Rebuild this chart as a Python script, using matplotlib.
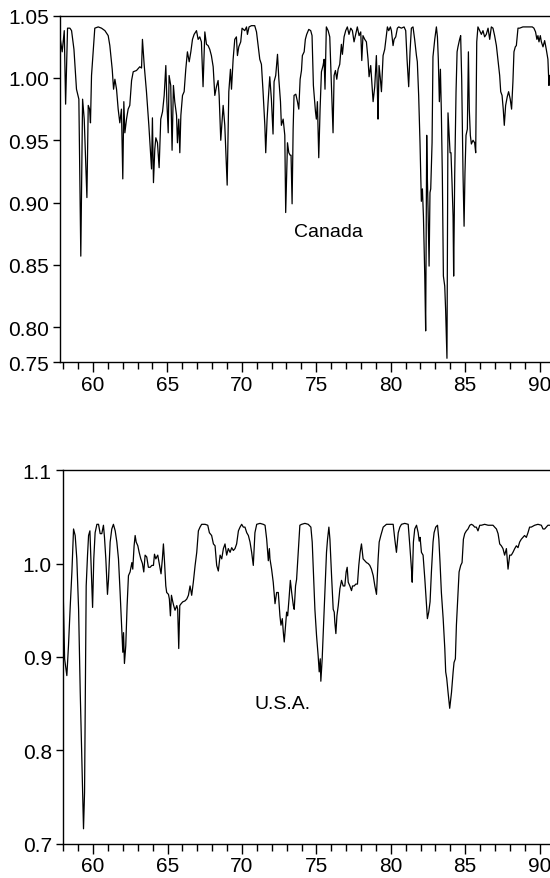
import matplotlib
matplotlib.use("Agg")
import matplotlib.pyplot as plt
from matplotlib.ticker import MultipleLocator

plt.rcParams['font.family'] = ['Liberation Sans', 'DejaVu Sans']

# Canada: time (years since 1900) and values
canada_t = [
    57.79, 57.94, 58.08, 58.17, 58.30, 58.46, 58.57, 58.73, 58.90, 59.06,
    59.19, 59.31, 59.42, 59.60, 59.69, 59.78, 59.84, 59.91, 60.02, 60.13,
    60.36, 60.58, 60.81, 61.03, 61.14, 61.30, 61.39, 61.48, 61.59, 61.70,
    61.81, 61.92, 62.01, 62.08, 62.15, 62.26, 62.37, 62.48, 62.60, 62.71,
    62.93, 63.15, 63.27, 63.33, 63.45, 63.60, 63.76, 63.94, 64.00, 64.07,
    64.16, 64.23, 64.34, 64.45, 64.56, 64.68, 64.79, 64.90, 64.97, 65.06,
    65.12, 65.23, 65.32, 65.41, 65.50, 65.62, 65.68, 65.77, 65.84, 65.91,
    66.02, 66.13, 66.24, 66.35, 66.47, 66.58, 66.69, 66.80, 66.96, 67.07,
    67.18, 67.29, 67.40, 67.52, 67.63, 67.74, 67.85, 67.96, 68.08, 68.19,
    68.30, 68.41, 68.48, 68.59, 68.75, 68.86, 69.02, 69.13, 69.24, 69.31,
    69.42, 69.53, 69.64, 69.71, 69.80, 69.93, 70.02, 70.20, 70.32, 70.38,
    70.49, 70.65, 70.87, 70.99, 71.10, 71.21, 71.32, 71.43, 71.55, 71.61,
    71.70, 71.77, 71.88, 71.99, 72.10, 72.17, 72.28, 72.40, 72.49, 72.60,
    72.66, 72.78, 72.89, 72.95, 73.07, 73.16, 73.25, 73.31, 73.38, 73.45,
    73.51, 73.63, 73.74, 73.83, 73.92, 74.01, 74.07, 74.19, 74.27, 74.36,
    74.50, 74.63, 74.72, 74.81, 74.95, 75.01, 75.08, 75.17, 75.26, 75.35,
    75.46, 75.53, 75.59, 75.68, 75.80, 75.91, 76.02, 76.13, 76.20, 76.29,
    76.38, 76.47, 76.58, 76.69, 76.76, 76.87, 76.98, 77.09, 77.20, 77.32,
    77.43, 77.54, 77.65, 77.76, 77.88, 77.99, 78.06, 78.14, 78.26, 78.37,
    78.48, 78.55, 78.66, 78.75, 78.82, 78.93, 79.04, 79.11, 79.15, 79.22,
    79.31, 79.38, 79.49, 79.60, 79.71, 79.78, 79.87, 79.98, 80.05, 80.16,
    80.23, 80.34, 80.45, 80.54, 80.72, 80.90, 81.01, 81.10, 81.21, 81.30,
    81.39, 81.50, 81.61, 81.73, 81.79, 81.88, 81.97, 82.06, 82.13, 82.20,
    82.29, 82.35, 82.42, 82.46, 82.51, 82.58, 82.64, 82.69, 82.78, 82.84,
    82.96, 83.07, 83.14, 83.20, 83.27, 83.34, 83.40, 83.47, 83.54, 83.63,
    83.69, 83.78, 83.85, 83.92, 83.99, 84.05, 84.12, 84.19, 84.23, 84.30,
    84.39, 84.46, 84.52, 84.63, 84.70, 84.77, 84.86, 84.93, 84.99, 85.06,
    85.15, 85.22, 85.28, 85.35, 85.42, 85.53, 85.64, 85.71, 85.78, 85.86,
    85.98, 86.09, 86.20, 86.31, 86.42, 86.54, 86.65, 86.76, 86.87, 86.98,
    87.10, 87.21, 87.32, 87.39, 87.48, 87.56, 87.63, 87.72, 87.83, 87.92,
    88.03, 88.12, 88.21, 88.28, 88.37, 88.44, 88.55, 88.66, 88.88, 89.11,
    89.33, 89.51, 89.62, 89.73, 89.82, 89.89, 89.96, 90.05, 90.12, 90.23,
    90.34, 90.45, 90.56, 90.63, 90.67,
]
canada_v = [
    1.033, 1.021, 1.038, 0.979, 1.040, 1.040, 1.038, 1.023, 0.991, 0.983,
    0.857, 0.983, 0.967, 0.904, 0.978, 0.975, 0.964, 1.002, 1.021, 1.040,
    1.041, 1.040, 1.038, 1.034, 1.026, 1.007, 0.991, 0.999, 0.991, 0.975,
    0.964, 0.975, 0.919, 0.981, 0.956, 0.967, 0.975, 0.978, 0.998, 1.005,
    1.006, 1.009, 1.008, 1.031, 1.010, 0.989, 0.962, 0.927, 0.968, 0.916,
    0.943, 0.952, 0.948, 0.928, 0.967, 0.973, 0.986, 1.010, 0.981, 0.956,
    1.002, 0.994, 0.942, 0.994, 0.981, 0.970, 0.948, 0.967, 0.940, 0.970,
    0.986, 0.989, 1.007, 1.021, 1.013, 1.021, 1.031, 1.035, 1.038, 1.031,
    1.033, 1.029, 0.993, 1.037, 1.027, 1.026, 1.023, 1.018, 1.009, 0.986,
    0.993, 0.998, 0.986, 0.950, 0.978, 0.962, 0.914, 0.989, 1.007, 0.991,
    1.015, 1.031, 1.033, 1.018, 1.025, 1.029, 1.040, 1.038, 1.041, 1.035,
    1.041, 1.042, 1.042, 1.037, 1.026, 1.015, 1.011, 0.989, 0.962, 0.940,
    0.967, 0.981, 1.001, 0.983, 0.955, 0.997, 1.002, 1.019, 0.999, 0.981,
    0.962, 0.967, 0.954, 0.892, 0.948, 0.940, 0.938, 0.938, 0.899, 0.959,
    0.986, 0.987, 0.981, 0.975, 0.999, 1.006, 1.018, 1.021, 1.031, 1.035,
    1.039, 1.038, 1.034, 0.994, 0.973, 0.967, 0.981, 0.936, 0.975, 1.005,
    1.010, 1.015, 0.991, 1.041, 1.038, 1.033, 0.994, 0.956, 1.002, 1.006,
    0.999, 1.007, 1.011, 1.027, 1.019, 1.033, 1.038, 1.041, 1.035, 1.040,
    1.038, 1.029, 1.035, 1.041, 1.034, 1.037, 1.014, 1.034, 1.031, 1.029,
    1.015, 1.001, 1.010, 0.993, 0.981, 0.993, 1.018, 0.989, 0.967, 1.010,
    0.999, 0.989, 1.018, 1.023, 1.034, 1.041, 1.038, 1.041, 1.038, 1.026,
    1.031, 1.033, 1.040, 1.041, 1.040, 1.041, 1.038, 1.015, 0.993, 1.021,
    1.040, 1.041, 1.031, 1.018, 1.013, 0.986, 0.948, 0.901, 0.911, 0.889,
    0.841, 0.797, 0.954, 0.922, 0.895, 0.849, 0.908, 0.911, 0.948, 1.017,
    1.031, 1.041, 1.033, 1.015, 0.981, 1.007, 0.975, 0.922, 0.841, 0.833,
    0.814, 0.775, 0.972, 0.956, 0.940, 0.940, 0.916, 0.889, 0.841, 0.922,
    0.989, 1.021, 1.025, 1.031, 1.034, 0.999, 0.922, 0.881, 0.924, 0.954,
    0.959, 1.021, 0.975, 0.954, 0.947, 0.950, 0.948, 0.940, 1.029, 1.041,
    1.038, 1.035, 1.038, 1.033, 1.035, 1.040, 1.031, 1.041, 1.040, 1.034,
    1.026, 1.014, 1.002, 0.989, 0.986, 0.975, 0.962, 0.978, 0.985, 0.989,
    0.983, 0.975, 0.997, 1.021, 1.025, 1.026, 1.040, 1.040, 1.041, 1.041,
    1.041, 1.041, 1.040, 1.037, 1.031, 1.034, 1.029, 1.034, 1.029, 1.025,
    1.030, 1.023, 1.015, 0.994, 1.002,
]

# U.S.A.
usa_t = [
    57.97, 58.08, 58.23, 58.34, 58.46, 58.57, 58.68, 58.79, 58.90, 59.02,
    59.13, 59.24, 59.35, 59.42, 59.53, 59.62, 59.69, 59.78, 59.87, 59.96,
    60.04, 60.13, 60.25, 60.36, 60.47, 60.58, 60.69, 60.76, 60.85, 60.96,
    61.03, 61.14, 61.25, 61.36, 61.48, 61.59, 61.70, 61.81, 61.92, 61.99,
    62.04, 62.10, 62.19, 62.28, 62.37, 62.48, 62.60, 62.66, 62.75, 62.82,
    62.89, 63.00, 63.09, 63.20, 63.31, 63.40, 63.49, 63.60, 63.71, 63.83,
    63.94, 64.05, 64.12, 64.21, 64.27, 64.34, 64.43, 64.56, 64.65, 64.72,
    64.79, 64.88, 64.94, 65.06, 65.12, 65.19, 65.26, 65.35, 65.41, 65.50,
    65.62, 65.68, 65.75, 65.82, 65.91, 66.02, 66.17, 66.29, 66.40, 66.51,
    66.62, 66.73, 66.85, 66.96, 67.07, 67.18, 67.29, 67.52, 67.70, 67.81,
    67.96, 68.08, 68.19, 68.30, 68.41, 68.53, 68.64, 68.75, 68.86, 68.97,
    69.08, 69.20, 69.31, 69.42, 69.53, 69.64, 69.76, 69.87, 69.98, 70.09,
    70.20, 70.32, 70.43, 70.54, 70.65, 70.76, 70.87, 70.99, 71.21, 71.43,
    71.55, 71.66, 71.77, 71.84, 71.88, 71.99, 72.10, 72.22, 72.33, 72.44,
    72.55, 72.62, 72.71, 72.78, 72.84, 72.93, 73.00, 73.07, 73.16, 73.25,
    73.34, 73.45, 73.51, 73.60, 73.67, 73.78, 73.89, 74.01, 74.23, 74.45,
    74.63, 74.72, 74.81, 74.90, 75.01, 75.12, 75.19, 75.26, 75.30, 75.39,
    75.48, 75.57, 75.68, 75.75, 75.84, 75.91, 76.02, 76.13, 76.20, 76.24,
    76.31, 76.38, 76.47, 76.58, 76.69, 76.80, 76.91, 77.00, 77.07, 77.14,
    77.25, 77.36, 77.43, 77.54, 77.65, 77.76, 77.85, 77.94, 78.03, 78.14,
    78.26, 78.37, 78.48, 78.59, 78.70, 78.82, 78.93, 79.04, 79.15, 79.22,
    79.33, 79.49, 79.71, 79.94, 80.16, 80.27, 80.38, 80.50, 80.61, 80.72,
    80.94, 81.17, 81.28, 81.39, 81.44, 81.52, 81.61, 81.73, 81.84, 81.91,
    81.97, 82.06, 82.17, 82.29, 82.40, 82.46, 82.55, 82.64, 82.73, 82.84,
    82.91, 83.02, 83.14, 83.23, 83.31, 83.40, 83.52, 83.63, 83.69, 83.76,
    83.85, 83.96, 84.08, 84.19, 84.25, 84.34, 84.41, 84.52, 84.59, 84.70,
    84.79, 84.88, 84.97, 85.08, 85.19, 85.31, 85.42, 85.53, 85.64, 85.75,
    85.86, 85.98, 86.09, 86.31, 86.54, 86.76, 86.87, 86.98, 87.10, 87.21,
    87.32, 87.43, 87.54, 87.65, 87.77, 87.88, 87.99, 88.10, 88.21, 88.33,
    88.44, 88.55, 88.66, 88.77, 88.88, 88.99, 89.11, 89.22, 89.33, 89.44,
    89.67, 89.89, 90.12, 90.23, 90.34, 90.45, 90.56, 90.67,
]
usa_v = [
    0.980, 0.898, 0.880, 0.912, 0.955, 0.991, 1.037, 1.030, 1.005, 0.951,
    0.862, 0.791, 0.716, 0.755, 0.976, 1.009, 1.030, 1.035, 0.994, 0.953,
    1.005, 1.033, 1.042, 1.042, 1.032, 1.032, 1.041, 1.028, 1.005, 0.967,
    0.983, 1.023, 1.037, 1.042, 1.035, 1.023, 1.005, 0.969, 0.930, 0.905,
    0.926, 0.893, 0.912, 0.955, 0.987, 0.991, 1.001, 0.994, 1.019, 1.030,
    1.023, 1.019, 1.012, 1.005, 1.000, 0.991, 1.009, 1.007, 0.996, 0.996,
    0.998, 0.998, 1.010, 1.005, 1.007, 1.009, 1.001, 0.989, 1.005, 1.021,
    1.003, 0.976, 0.969, 0.967, 0.962, 0.944, 0.966, 0.959, 0.955, 0.950,
    0.955, 0.951, 0.909, 0.955, 0.957, 0.959, 0.960, 0.962, 0.966, 0.976,
    0.966, 0.980, 0.998, 1.012, 1.035, 1.039, 1.042, 1.042, 1.041, 1.033,
    1.030, 1.021, 1.019, 0.998, 0.992, 1.009, 1.005, 1.016, 1.021, 1.009,
    1.016, 1.012, 1.017, 1.014, 1.016, 1.021, 1.035, 1.039, 1.042, 1.039,
    1.039, 1.033, 1.030, 1.023, 1.012, 0.998, 1.033, 1.042, 1.043, 1.042,
    1.041, 1.026, 1.003, 1.016, 1.005, 0.994, 0.980, 0.957, 0.969, 0.969,
    0.944, 0.934, 0.941, 0.926, 0.916, 0.934, 0.948, 0.944, 0.962, 0.982,
    0.969, 0.955, 0.951, 0.976, 0.983, 1.012, 1.041, 1.042, 1.043, 1.042,
    1.039, 1.023, 0.987, 0.951, 0.923, 0.901, 0.884, 0.898, 0.874, 0.898,
    0.934, 0.969, 1.012, 1.026, 1.039, 1.026, 0.987, 0.951, 0.948, 0.937,
    0.925, 0.944, 0.955, 0.973, 0.982, 0.976, 0.976, 0.991, 0.996, 0.980,
    0.976, 0.971, 0.976, 0.976, 0.978, 0.978, 0.998, 1.012, 1.021, 1.005,
    1.003, 1.001, 1.000, 0.998, 0.994, 0.987, 0.976, 0.967, 1.005, 1.023,
    1.030, 1.039, 1.042, 1.042, 1.042, 1.026, 1.012, 1.033, 1.039, 1.042,
    1.043, 1.042, 1.019, 0.994, 0.980, 1.023, 1.037, 1.041, 1.033, 1.024,
    1.028, 1.012, 1.009, 0.983, 0.955, 0.941, 0.948, 0.959, 0.991, 1.023,
    1.033, 1.039, 1.041, 1.026, 1.001, 0.969, 0.941, 0.909, 0.884, 0.877,
    0.862, 0.845, 0.862, 0.884, 0.894, 0.898, 0.934, 0.969, 0.991, 0.998,
    1.001, 1.026, 1.032, 1.035, 1.037, 1.041, 1.042, 1.041, 1.039, 1.039,
    1.035, 1.041, 1.041, 1.042, 1.041, 1.041, 1.041, 1.039, 1.037, 1.032,
    1.021, 1.019, 1.016, 1.009, 1.016, 0.994, 1.009, 1.009, 1.012, 1.016,
    1.019, 1.017, 1.023, 1.026, 1.028, 1.030, 1.028, 1.033, 1.039, 1.039,
    1.041, 1.042, 1.041, 1.037, 1.037, 1.039, 1.041, 1.041,
]

canada_ticks = [0.772, 0.80, 0.85, 0.90, 0.95, 1.00, 1.05]
canada_ticklabels = ['0.75', '0.80', '0.85', '0.90', '0.95', '1.00', '1.05']
usa_ticks = [0.7, 0.8, 0.9, 1.0, 1.1]
usa_ticklabels = ['0.7', '0.8', '0.9', '1.0', '1.1']
year_ticks = [60, 65, 70, 75, 80, 85, 90]

fig = plt.figure(figsize=(5.5, 8.79), dpi=100)
ax1 = fig.add_axes([0.109, 0.587, 0.891, 0.394])
ax2 = fig.add_axes([0.1145, 0.039, 0.8855, 0.425])


def style(ax, xlim, ylim, ticks, labels):
    ax.set_xlim(*xlim)
    ax.set_ylim(*ylim)
    ax.set_yticks(ticks)
    ax.set_yticklabels(labels)
    ax.set_xticks(year_ticks)
    ax.set_xticklabels([str(y) for y in year_ticks])
    ax.xaxis.set_minor_locator(MultipleLocator(1))
    ax.spines['right'].set_visible(False)
    for s in ('left', 'top', 'bottom'):
        ax.spines[s].set_linewidth(1.0)
    ax.tick_params(axis='y', which='major', labelsize=15, direction='out',
                   length=5, width=1.0, pad=3)
    ax.tick_params(axis='x', which='major', labelsize=15, direction='out',
                   length=7, width=1.0, pad=2)
    ax.tick_params(axis='x', which='minor', direction='out', length=5, width=1.0)


ax1.plot(canada_t, canada_v, color='black', lw=0.9)
style(ax1, (57.79, 90.7), (0.772, 1.05), canada_ticks, canada_ticklabels)
ax1.text(75.84, 0.877, 'Canada', fontsize=14, ha='center', va='center')

ax2.plot(usa_t, usa_v, color='black', lw=0.9)
style(ax2, (57.97, 90.7), (0.7, 1.1), usa_ticks, usa_ticklabels)
ax2.text(72.75, 0.850, 'U.S.A.', fontsize=14, ha='center', va='center')

fig.savefig('out.png', dpi=100)
